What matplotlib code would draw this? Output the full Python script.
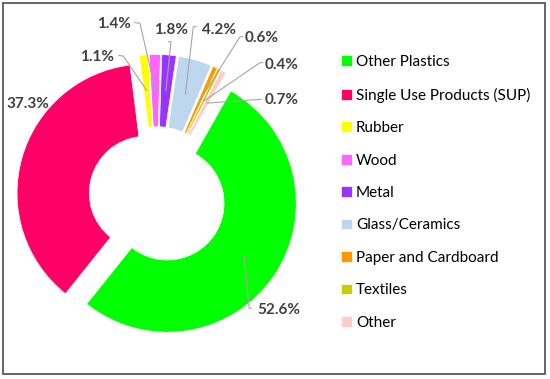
import numpy as np
import matplotlib
matplotlib.use("Agg")
import matplotlib.pyplot as plt
from matplotlib.patches import Rectangle

# Datos del gráfico
categories = ["Other Plastics", "Single Use Products (SUP)", "Rubber", "Wood", "Metal",
              "Glass/Ceramics", "Paper and Cardboard", "Textiles", "Other"]
shares = [52.6, 37.3, 1.1, 1.4, 1.8, 4.2, 0.6, 0.4, 0.7]
pct_labels = ["52.6%", "37.3%", "1.1%", "1.4%", "1.8%", "4.2%", "0.6%", "0.4%", "0.7%"]
colors = ["#00FF00", "#FF0066", "#FFFF00", "#FF66FF", "#9933FF",
          "#BDD7EE", "#FF9900", "#CCCC00", "#FFCCCC"]
explode = [0.10, 0.085, 0.097, 0.097, 0.097, 0.097, 0.097, 0.097, 0.097]

W, H = 550, 379
fig = plt.figure(figsize=(W / 100, H / 100), dpi=100)
ax = fig.add_axes([0, 0, 1, 1])

wedges, _ = ax.pie(shares, colors=colors, explode=explode, startangle=60.5,
                   counterclock=False, radius=1,
                   wedgeprops=dict(width=0.56, edgecolor="white", linewidth=0.5))

# escala: centro del anillo en (156.6, 196) px, radio 129 px
cx, cy, R = 156.6, 196.0, 129.0
ax.set_xlim(-cx / R, (W - cx) / R)
ax.set_ylim((cy - H) / R, cy / R)
ax.set_aspect("auto")
ax.axis("off")


def px(x, y):
    # pixeles de la imagen (origen arriba a la izquierda) -> datos
    return ax.transData.inverted().transform((x, H - y))


# posición de cada etiqueta (centro del texto), inicio y codo de la línea guía
label_pos = [(278.5, 310), (27.5, 104), (96.7, 57), (113.7, 23.5), (170.7, 30),
             (218.7, 30), (262, 37.5), (282, 65), (282, 100)]
leader_start = [(251.7, 308.3), None, (118.3, 55.5), (134.3, 22.5), (168, 41.7),
                (196.7, 26.7), (243.3, 36.7), (263.3, 62.7), (261.7, 99.5)]
leader_elbow = [(249.3, 308.3), None, (123.3, 56), (140, 23.3), (171, 41.7),
                (193.3, 26.7), (240, 36.7), (260, 62.7), (258, 99.5)]

for w, txt, pos, st, el in zip(wedges, pct_labels, label_pos, leader_start, leader_elbow):
    ax.text(*px(*pos), txt, ha="center", va="center", fontsize=11,
            fontweight="bold", family="Lato", color="#404040")
    if st is None:
        continue
    ang = np.deg2rad((w.theta1 + w.theta2) / 2)
    rm = w.r - w.width / 2
    end = (w.center[0] + rm * np.cos(ang), w.center[1] + rm * np.sin(ang))
    p0, p1 = px(*st), px(*el)
    ax.plot([p0[0], p1[0], end[0]], [p0[1], p1[1], end[1]],
            color="#A6A6A6", lw=0.8, solid_capstyle="butt")

ax.legend(wedges, categories, loc="upper left",
          bbox_to_anchor=(341 / W, 1 - 55 / H), bbox_transform=fig.transFigure,
          frameon=False, prop={"family": "Lato", "size": 11},
          handlelength=0.7, handleheight=0.7, handletextpad=0.28,
          labelspacing=1.21, borderpad=0, borderaxespad=0)

# marco exterior
fig.add_artist(Rectangle((2.5 / W, 1 - 373.5 / H), 542 / W, 370.5 / H,
                         transform=fig.transFigure, fill=False,
                         edgecolor="#595959", lw=1.3))

fig.savefig("out.png", dpi=100)
